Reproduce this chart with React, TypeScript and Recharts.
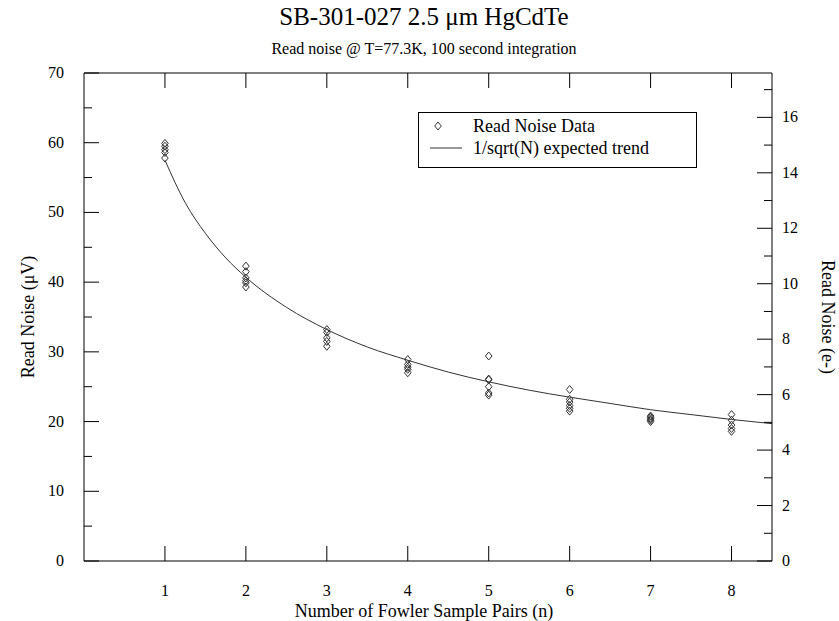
import { ComposedChart, Scatter, Line, XAxis, YAxis } from 'recharts'

const FONT = '"Times New Roman", "Liberation Serif", serif'

// read noise samples (µV) per Fowler pair count
const N_VALUES = [1, 2, 3, 4, 5, 6, 7, 8]
const NOISE_1 = [59.9, 59.5, 59.0, 58.6, 57.8]
const NOISE_2 = [42.3, 41.5, 40.6, 40.2, 39.9, 39.3]
const NOISE_3 = [33.2, 32.8, 32.0, 31.5, 30.8]
const NOISE_4 = [28.9, 28.2, 27.8, 27.5, 27.0]
const NOISE_5 = [29.4, 26.1, 26.0, 25.0, 24.1, 23.8]
const NOISE_6 = [24.6, 23.2, 22.8, 22.3, 21.9, 21.5]
const NOISE_7 = [20.8, 20.6, 20.4, 20.2, 20.0]
const NOISE_8 = [21.0, 20.2, 19.5, 19.0, 18.6]
const NOISE = [NOISE_1, NOISE_2, NOISE_3, NOISE_4, NOISE_5, NOISE_6, NOISE_7, NOISE_8]

// expected trend
const TREND_X = [1, 1.25, 1.5, 1.75, 2, 2.5, 3, 3.5, 4, 4.5, 5, 5.5, 6, 6.5, 7, 7.5, 8, 8.5]
const TREND_Y = [57.5, 51.4, 47.0, 43.5, 40.7, 36.4, 33.2, 30.7, 28.8, 27.1, 25.7, 24.5, 23.5, 22.6, 21.7, 21.0, 20.3, 19.7]

const X_TICKS = [1, 2, 3, 4, 5, 6, 7, 8]
const LEFT_TICKS = [0, 5, 10, 15, 20, 25, 30, 35, 40, 45, 50, 55, 60, 65, 70]
const RIGHT_TICKS = [0, 1, 2, 3, 4, 5, 6, 7, 8, 9, 10, 11, 12, 13, 14, 15, 16, 17]

const points = NOISE.flatMap((vals, i) => vals.map((v) => ({ x: N_VALUES[i], y: v })))
const trend = TREND_X.map((x, i) => ({ x, y: TREND_Y[i] }))

function Diamond(props: any) {
  const { cx, cy } = props
  if (cx == null || cy == null) return null
  return <path d={`M${cx},${cy - 4} L${cx + 3.3},${cy} L${cx},${cy + 4} L${cx - 3.3},${cy} Z`} fill="none" stroke="#333" strokeWidth={1} />
}

function BottomTick(props: any) {
  const { x, y, payload } = props
  const axisY = y - 10
  return (
    <g>
      <line x1={x} x2={x} y1={axisY} y2={axisY - 15} stroke="#000" />
      <text x={x} y={axisY + 35} textAnchor="middle" fontSize={16} fontFamily={FONT} fill="#000">
        {payload.value}
      </text>
    </g>
  )
}

function TopTick(props: any) {
  const { x, y } = props
  return <line x1={x} x2={x} y1={y} y2={y + 15} stroke="#000" />
}

function LeftTick(props: any) {
  const { x, y, payload } = props
  const axisX = x + 10
  const major = payload.value % 10 === 0
  return (
    <g>
      <line x1={axisX} x2={axisX + (major ? 15 : 8)} y1={y} y2={y} stroke="#000" />
      {major && (
        <text x={axisX - 20} y={y + 5} textAnchor="end" fontSize={16} fontFamily={FONT} fill="#000">
          {payload.value}
        </text>
      )}
    </g>
  )
}

function RightTick(props: any) {
  const { x, y, payload } = props
  const axisX = x - 10
  const major = payload.value % 2 === 0
  return (
    <g>
      <line x1={axisX} x2={axisX - (major ? 15 : 8)} y1={y} y2={y} stroke="#000" />
      {major && (
        <text x={axisX + 10} y={y + 5} textAnchor="start" fontSize={16} fontFamily={FONT} fill="#000">
          {payload.value}
        </text>
      )}
    </g>
  )
}

export default function App() {
  return (
    <div style={{ position: 'absolute', left: 0, top: 0, width: 839, height: 621, background: '#fff', fontFamily: FONT }}>
      <div style={{ position: 'absolute', left: 0, width: 848, top: 3, textAlign: 'center', fontSize: 25 }}>
        SB-301-027 2.5 μm HgCdTe
      </div>
      <div style={{ position: 'absolute', left: 0, width: 848, top: 40, textAlign: 'center', fontSize: 16 }}>
        Read noise @ T=77.3K, 100 second integration
      </div>
      <ComposedChart width={839} height={621} margin={{ top: 72, right: 27, bottom: 20, left: 44 }}>
        <XAxis
          xAxisId="top"
          orientation="top"
          type="number"
          dataKey="x"
          domain={[0, 8.5]}
          ticks={X_TICKS}
          height={1}
          tickSize={0}
          tickMargin={0}
          tick={<TopTick />}
          tickLine={false}
          axisLine={{ stroke: '#000' }}
          allowDataOverflow
        />
        <XAxis
          type="number"
          dataKey="x"
          domain={[0, 8.5]}
          ticks={X_TICKS}
          height={40}
          tickSize={0}
          tickMargin={10}
          tick={<BottomTick />}
          tickLine={false}
          axisLine={{ stroke: '#000' }}
          allowDataOverflow
        />
        <YAxis
          yAxisId="left"
          type="number"
          domain={[0, 70]}
          ticks={LEFT_TICKS}
          width={40}
          tickSize={0}
          tickMargin={10}
          tick={<LeftTick />}
          tickLine={false}
          axisLine={{ stroke: '#000' }}
          interval={0}
          allowDataOverflow
        />
        <YAxis
          yAxisId="right"
          orientation="right"
          type="number"
          domain={[0, 17.6]}
          ticks={RIGHT_TICKS}
          width={40}
          tickSize={0}
          tickMargin={10}
          tick={<RightTick />}
          tickLine={false}
          axisLine={{ stroke: '#000' }}
          interval={0}
          allowDataOverflow
        />
        <Line
          yAxisId="left"
          data={trend}
          dataKey="y"
          type="monotone"
          stroke="#333"
          strokeWidth={1}
          dot={false}
          activeDot={false}
          isAnimationActive={false}
        />
        <Scatter yAxisId="left" data={points} dataKey="y" shape={<Diamond />} isAnimationActive={false} />
      </ComposedChart>
      <div
        style={{
          position: 'absolute',
          left: 418,
          top: 112,
          width: 277,
          height: 54,
          border: '1px solid #000',
          background: '#fff',
          fontSize: 18,
        }}
      >
        <svg width={60} height={54} style={{ position: 'absolute', left: 0, top: 0 }}>
          <path d="M19,9 L22.3,13 L19,17 L15.7,13 Z" fill="none" stroke="#333" />
          <line x1={11} x2={43} y1={35} y2={35} stroke="#333" />
        </svg>
        <div style={{ position: 'absolute', left: 54, top: 2, lineHeight: '22px' }}>Read Noise Data</div>
        <div style={{ position: 'absolute', left: 54, top: 24, lineHeight: '22px' }}>1/sqrt(N) expected trend</div>
      </div>
      <div
        style={{
          position: 'absolute',
          left: 28,
          top: 317,
          transform: 'translate(-50%, -50%) rotate(-90deg)',
          whiteSpace: 'nowrap',
          fontSize: 18,
        }}
      >
        Read Noise (μV)
      </div>
      <div
        style={{
          position: 'absolute',
          left: 827,
          top: 317,
          transform: 'translate(-50%, -50%) rotate(90deg)',
          whiteSpace: 'nowrap',
          fontSize: 18,
        }}
      >
        Read Noise (e-)
      </div>
      <div style={{ position: 'absolute', left: 0, width: 848, top: 601, textAlign: 'center', fontSize: 18 }}>
        Number of Fowler Sample Pairs (n)
      </div>
    </div>
  )
}
